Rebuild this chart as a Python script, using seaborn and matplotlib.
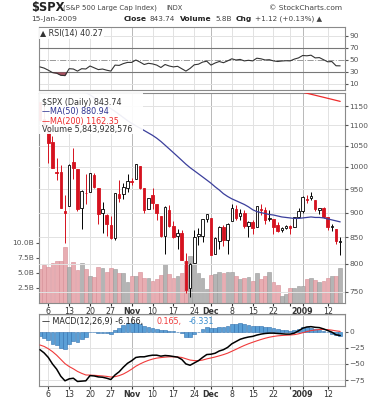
import numpy as np
import matplotlib
matplotlib.use("Agg")
import matplotlib.pyplot as plt
from matplotlib.patches import Rectangle
import seaborn as sns

# daily $SPX, 2-Oct-2008 .. 15-Jan-2009 (one row per trading day)
opens = [1160.64, 1115.16, 1097.56, 1057.60, 988.91, 988.42, 902.31, 912.75, 1009.97, 994.60,
         909.53, 942.29, 943.51, 980.40, 951.67, 899.08, 895.07, 874.28, 848.92, 939.51,
         939.38, 953.11, 968.67, 971.31, 1001.84, 952.40, 907.44, 936.75, 917.15, 893.39,
         853.13, 904.36, 873.23, 852.34, 859.03, 805.87, 755.84, 801.20, 853.40, 852.90,
         886.89, 888.61, 817.94, 843.60, 869.75, 844.43, 882.71, 906.48, 892.17, 898.35,
         871.79, 881.07, 871.53, 908.16, 905.98, 886.96, 887.20, 874.31, 863.87, 869.51,
         872.37, 870.58, 890.59, 902.99, 929.17, 931.17, 927.45, 905.73, 909.91, 890.40,
         869.79, 867.28, 841.99]
highs = [1160.64, 1153.82, 1097.56, 1072.91, 1021.06, 1005.25, 936.36, 1006.93, 1044.31, 994.60,
         947.71, 984.64, 985.40, 985.44, 951.67, 922.83, 896.30, 893.78, 940.51, 969.97,
         963.23, 984.38, 975.57, 1007.51, 1001.84, 952.40, 931.46, 951.95, 917.15, 893.39,
         913.01, 916.88, 882.29, 865.90, 864.57, 820.52, 801.20, 865.60, 868.94, 887.68,
         896.25, 888.61, 850.54, 873.12, 875.60, 879.42, 918.57, 916.26, 908.27, 904.63,
         883.24, 884.63, 914.66, 918.85, 911.02, 905.47, 887.37, 880.44, 869.79, 873.74,
         873.70, 891.12, 910.32, 934.73, 936.63, 943.85, 927.45, 910.00, 911.93, 890.40,
         877.02, 867.28, 851.59]
lows = [1111.43, 1098.14, 1007.97, 996.23, 970.97, 909.19, 839.80, 912.75, 972.07, 903.99,
        865.83, 918.74, 943.51, 952.47, 875.81, 858.44, 852.85, 846.75, 845.27, 922.26,
        928.50, 944.59, 958.82, 971.31, 949.86, 899.73, 906.90, 907.47, 884.90, 850.48,
        818.69, 869.88, 848.98, 826.84, 806.18, 747.78, 741.02, 801.20, 834.99, 841.37,
        881.21, 815.69, 817.94, 827.60, 833.60, 818.41, 882.71, 885.38, 885.45, 868.73,
        851.35, 857.72, 871.53, 895.94, 877.44, 883.02, 857.09, 860.10, 861.44, 866.52,
        857.07, 870.58, 889.67, 899.35, 919.53, 927.28, 902.37, 896.81, 888.31, 864.32,
        862.02, 836.93, 817.04]
closes = [1114.28, 1099.23, 1056.89, 996.23, 984.94, 909.92, 899.22, 1003.35, 998.01, 907.84,
          946.43, 940.55, 985.40, 955.05, 896.78, 908.11, 876.77, 848.92, 940.51, 930.09,
          954.09, 968.75, 966.30, 1005.75, 952.77, 904.88, 930.99, 919.21, 898.95, 852.30,
          911.29, 873.29, 850.75, 859.12, 806.58, 752.44, 800.03, 851.81, 857.39, 887.68,
          896.24, 816.21, 848.81, 870.74, 845.22, 876.07, 909.70, 888.67, 899.24, 873.59,
          879.73, 868.57, 913.18, 904.42, 885.28, 887.88, 871.63, 863.16, 868.15, 872.80,
          869.42, 890.64, 903.25, 931.80, 927.45, 934.70, 906.65, 909.73, 890.35, 870.26,
          871.79, 842.62, 843.74]
prev_close_first = 1161.06

volume_b = [5.6, 6.3, 5.9, 6.7, 7.0, 7.0, 9.3, 6.0, 6.8, 5.4,
            6.7, 5.6, 4.4, 4.3, 5.9, 5.8, 5.2, 5.8, 5.7, 5.05,
            5.05, 3.55, 4.5, 4.5, 5.2, 4.1, 4.2, 3.7, 4.0, 4.6,
            6.4, 4.8, 4.1, 4.5, 5.05, 7.0, 7.8, 6.4, 5.05, 4.1,
            2.3, 4.7, 4.8, 5.2, 4.9, 5.2, 5.2, 4.4, 3.9, 4.2,
            4.3, 3.7, 5.0, 4.05, 4.4, 5.2, 3.4, 3.0, 1.2, 1.45,
            2.55, 2.55, 2.9, 2.8, 3.9, 4.2, 3.8, 3.5, 3.6, 4.2,
            4.45, 4.55, 5.84]

ma50_start = 10
ma50 = [1193, 1186, 1180, 1172, 1165, 1157, 1150, 1143, 1136, 1128,
        1120, 1112, 1105, 1099, 1093, 1087, 1081, 1075, 1068, 1060,
        1051, 1042, 1033, 1024, 1015, 1006, 998, 991, 984, 977,
        970, 963, 955, 948, 940, 934, 929, 925, 921, 917,
        912, 906, 902, 900, 898, 896, 895, 893, 891, 890,
        889, 888, 888, 889, 890, 891, 890, 890, 889, 887,
        885, 883, 880.94]
ma200_start = 63
ma200 = [1187.0, 1184.4, 1181.6, 1178.9, 1176.1, 1173.4, 1170.6, 1167.9, 1165.1, 1162.35]

rsi = [38.5, 36.5, 33, 29, 28, 24.5, 24, 35.5, 35, 31.5,
       35.5, 35, 40, 37, 34, 35, 33, 31.5, 41.5, 41,
       44, 46, 46, 50, 46.5, 42.5, 44.5, 43.5, 41.5, 37.5,
       42.5, 40, 38.5, 39.5, 35.5, 31.5, 36, 42, 43, 46.5,
       48, 41.5, 45, 47.5, 45.5, 48.5, 52, 50, 51, 48.5,
       49.5, 48.5, 53, 52, 50, 50.5, 48.5, 47.5, 48.3, 48.8,
       48.5, 51.5, 53.5, 57.5, 57, 58, 53.5, 54, 50.5, 47,
       47.4, 40.4, 40.27]

macd = [-28, -33, -40, -50, -58, -69, -76, -73, -72, -77,
        -76.5, -76, -68, -68.5, -70, -70.5, -72, -74, -67, -62,
        -55, -49, -45, -40, -39, -39, -37.5, -36.5, -36.5, -38,
        -37, -37.5, -38.5, -39.5, -43, -50, -52, -48.5, -45, -40,
        -35.5, -35, -33.5, -30, -28, -24.5, -19, -15.5, -12, -10,
        -8.5, -7.5, -5.5, -4, -3, -2.5, -2.5, -3, -3.5, -4,
        -4, -2.5, 1, 5, 7, 7.5, 6.5, 6, 4, 1.5,
        -1, -5, -6.166]
signal = [-20.8, -23, -26.5, -31, -36.5, -43, -49.5, -54, -57.5, -61.5,
          -64.5, -67, -67.2, -67.5, -68, -68.5, -69.2, -70.2, -69.6, -68,
          -65.5, -62, -58, -53.5, -50, -47, -44.5, -42.5, -41, -40.2,
          -39.5, -39, -39, -39.2, -40, -42, -44, -44.8, -45, -44,
          -42.2, -40.8, -39.3, -37.5, -35.6, -33.4, -30.5, -27.5, -24.4, -21.5,
          -18.9, -16.6, -14.4, -12.3, -10.4, -8.8, -7.6, -6.7, -6.1, -5.7,
          -5.4, -4.8, -3.6, -1.9, -0.1, 1.4, 2.4, 3.1, 3.3, 2.9,
          2.1, 1.0, 0.165]

tick_pos = [2, 7, 12, 17, 22, 27, 32, 37, 41, 46, 51, 56, 60, 63, 69]
tick_labels = ['6', '13', '20', '27', 'Nov', '10', '17', '24', 'Dec', '8', '15', '22', '', '2009', '12']
month_pos = [22, 41, 63]
price_ticks = [750, 800, 850, 900, 950, 1000, 1050, 1100, 1150]
vol_ticks = [2.5, 5.0, 7.5, 10.0]
rsi_ticks = [10, 30, 50, 70, 90]
macd_ticks = [0, -25, -50, -75]

sns.set_style("white")
plt.rcParams['font.family'] = ['DejaVu Sans']

W, H = 382, 400
fig = plt.figure(figsize=(W / 100, H / 100), dpi=100)


def box(top, bottom, left=38.5, right=345):
    return [left / W, 1 - bottom / H, (right - left) / W, (bottom - top) / H]


RED = '#d5121f'
TXT = '#555555'
GRID = '#e2e2e2'
MGRID = '#b8b8b8'
FS = 5.4

ax_v = fig.add_axes(box(93, 303))
ax_r = fig.add_axes(box(27, 90), sharex=ax_v)
ax_m = fig.add_axes(box(314, 386), sharex=ax_v)
ax_p = ax_v.twinx()

idx = np.arange(len(closes))
o = np.array(opens)
c = np.array(closes)
hi = np.array(highs)
lo = np.array(lows)
prev = np.r_[prev_close_first, c[:-1]]
up = c >= prev

for ax in (ax_r, ax_v, ax_m):
    for p in tick_pos:
        ax.axvline(p, color=MGRID if p in month_pos else GRID, lw=0.7, zorder=0)
    for s in ax.spines.values():
        s.set_color('#8a8a8a')
        s.set_linewidth(0.8)
for s in ax_p.spines.values():
    s.set_visible(False)

# volume (left axis)
vol_col = np.where(up, '#b4b4b4', '#e8adb2')
vol_edge = np.where(up, '#999999', '#d58d94')
ax_v.bar(idx, volume_b, width=0.9, color=vol_col, edgecolor=vol_edge, linewidth=0.4, zorder=1)
ax_v.set_ylim(0, 34.8)
ax_v.set_yticks(vol_ticks)
ax_v.set_yticklabels(['2.5B', '5.0B', '7.5B', '10.0B'])
ax_v.tick_params(axis='y', left=True, length=2, labelsize=FS, colors=TXT, pad=1)

# price (right axis, log)
ax_p.set_yscale('log')
ax_p.set_ylim(731, 1185)
for t in price_ticks:
    ax_p.axhline(t, color=GRID, lw=0.7, zorder=0)
col = np.where(up, 'black', RED)
ax_p.vlines(idx, lo, hi, colors=col, lw=0.7, zorder=2)
body_lo = np.minimum(o, c)
body_h = np.maximum(np.abs(c - o), 0.8)
face = np.where(c > o, 'white', col)
ax_p.bar(idx, body_h, bottom=body_lo, width=0.6, color=face, edgecolor=col,
         linewidth=0.6, zorder=3)
sns.lineplot(x=np.arange(ma50_start, ma50_start + len(ma50)), y=ma50, ax=ax_p,
             color='#3b3f9c', lw=0.9, zorder=4)
sns.lineplot(x=np.arange(ma200_start, ma200_start + len(ma200)), y=ma200, ax=ax_p,
             color='#ee2a2a', lw=0.9, zorder=4)
ax_p.set_yticks(price_ticks)
ax_p.set_yticklabels([str(t) for t in price_ticks])
ax_p.yaxis.set_minor_locator(matplotlib.ticker.NullLocator())
ax_p.tick_params(axis='y', right=True, length=2, labelsize=FS, colors=TXT, pad=1)

# white legend area in the top-left of the price panel
ax_p.add_patch(Rectangle((0, 0.805), 0.34, 0.195, transform=ax_p.transAxes,
                         facecolor='white', edgecolor='none', alpha=0.92, zorder=5))

# RSI
ax_r.set_ylim(0, 105)
for t in (10, 90):
    ax_r.axhline(t, color=GRID, lw=0.7, zorder=0)
ax_r.axhline(70, color='#777777', lw=0.8, zorder=1)
ax_r.axhline(30, color='#777777', lw=0.8, zorder=1)
ax_r.axhline(50, color='#999999', lw=0.7, ls='-.', zorder=1)
rsi_a = np.array(rsi)
ax_r.fill_between(idx, rsi_a, 30, where=rsi_a < 30, interpolate=True, color='#9c3346', alpha=0.85, lw=0, zorder=2)
sns.lineplot(x=idx, y=rsi, ax=ax_r, color='#333333', lw=0.8, zorder=3)
ax_r.yaxis.tick_right()
ax_r.set_yticks(rsi_ticks)
ax_r.tick_params(axis='y', right=True, length=2, labelsize=FS, colors=TXT, pad=1)
ax_r.tick_params(axis='x', bottom=False, labelbottom=False)

# MACD
ax_m.set_ylim(-84, 27)
for t in (25, -25, -50, -75):
    ax_m.axhline(t, color=GRID, lw=0.7, zorder=0)
hist = np.array(macd) - np.array(signal)
ax_m.bar(idx, hist, width=0.9, color='#5a9fd6', edgecolor='#2f6fae', linewidth=0.4, zorder=2)
sns.lineplot(x=idx, y=signal, ax=ax_m, color='#f03a3a', lw=0.8, zorder=3)
sns.lineplot(x=idx, y=macd, ax=ax_m, color='black', lw=1.1, zorder=4)
ax_m.yaxis.tick_right()
ax_m.set_yticks(macd_ticks)
ax_m.tick_params(axis='y', right=True, length=2, labelsize=FS, colors=TXT, pad=1)

for ax in (ax_v, ax_m):
    ax.set_xticks(tick_pos)
    ax.set_xticklabels(tick_labels)
    ax.tick_params(axis='x', bottom=True, length=2, labelsize=FS + 0.3, colors='#333333', pad=1)
    for lab in ax.get_xticklabels():
        if lab.get_text() in ('Nov', 'Dec', '2009'):
            lab.set_fontweight('bold')
ax_v.set_xlim(-0.35, 73.15)
for ax in (ax_r, ax_v, ax_m, ax_p):
    ax.set_xlabel('')
    ax.set_ylabel('')

# header
def ftext(x, y, s, **kw):
    fig.text(x / W, 1 - y / H, s, va='center', **kw)

ftext(31, 7, '$SPX', fontsize=8.3, fontweight='bold', color='#222222')
ftext(63, 7.5, '(S&P 500 Large Cap Index)', fontsize=5.0, color='#444444')
ftext(166, 7.5, 'INDX', fontsize=4.8, color='#444444')
ftext(342, 7.5, '© StockCharts.com', fontsize=5.4, color='#444444', ha='right')
ftext(31, 19, '15-Jan-2009', fontsize=5.4, color='#444444')
ftext(124, 19, 'Close', fontsize=5.4, fontweight='bold', color='#222222')
ftext(150, 19, '843.74', fontsize=5.2, color='#444444')
ftext(180, 19, 'Volume', fontsize=5.4, fontweight='bold', color='#222222')
ftext(215, 19, '5.8B', fontsize=5.2, color='#444444')
ftext(236, 19, 'Chg', fontsize=5.4, fontweight='bold', color='#222222')
ftext(255, 19, '+1.12 (+0.13%) ▲', fontsize=5.2, color='#444444')

# panel legends
bb = dict(facecolor='white', edgecolor='none', pad=0.6, alpha=0.9)
ax_r.text(0.005, 0.9, '▲ RSI(14) 40.27', transform=ax_r.transAxes, fontsize=5.8,
          color='#333333', va='center', bbox=bb)
leg_y = [0.955, 0.912, 0.865, 0.828]
ax_p.text(0.01, leg_y[0], '$SPX (Daily) 843.74', transform=ax_p.transAxes, fontsize=5.8,
          color='#333333', va='center', zorder=6)
ax_p.text(0.01, leg_y[1], '—MA(50) 880.94', transform=ax_p.transAxes, fontsize=5.8,
          color='#2d3190', va='center', zorder=6)
ax_p.text(0.01, leg_y[2], '—MA(200) 1162.35', transform=ax_p.transAxes, fontsize=5.8,
          color='#ee2a2a', va='center', zorder=6)
ax_p.text(0.01, leg_y[3], 'Volume 5,843,928,576', transform=ax_p.transAxes, fontsize=5.8,
          color='#333333', va='center', zorder=6)
ax_m.text(0.01, 0.9, '— MACD(12,26,9) -6.166,', transform=ax_m.transAxes, fontsize=5.8,
          color='#222222', va='center')
ax_m.text(0.385, 0.9, '0.165,', transform=ax_m.transAxes, fontsize=5.8,
          color='#f03a3a', va='center')
ax_m.text(0.49, 0.9, '-6.331', transform=ax_m.transAxes, fontsize=5.8,
          color='#3d8fd0', va='center')

fig.savefig('out.png', dpi=100)
